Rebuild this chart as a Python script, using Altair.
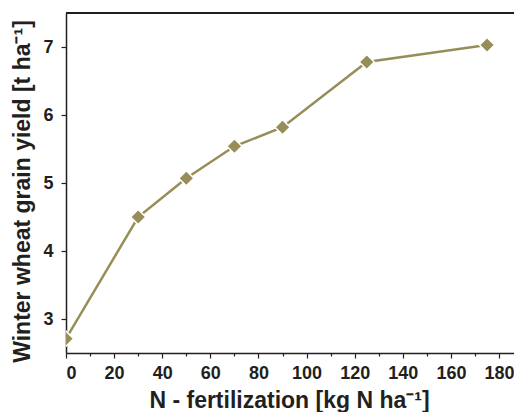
import altair as alt
import pandas as pd

n_rate = [0, 30, 50, 70, 90, 125, 175]
yield_t = [2.71, 4.50, 5.07, 5.54, 5.82, 6.78, 7.03]

x_ticks = list(range(0, 190, 10))
y_ticks = [3, 3.5, 4, 4.5, 5, 5.5, 6, 6.5, 7]

df = pd.DataFrame({"N": n_rate, "Y": yield_t})

W, H = 448, 340
COL = "#978D57"
AX = "#231F20"
FONT = "Liberation Sans"

x = alt.X(
    "N:Q",
    scale=alt.Scale(domain=[0, 186.2], nice=False, zero=False),
    axis=alt.Axis(
        title="N - fertilization [kg N ha⁻¹]",
        values=x_ticks,
        format="d",
        labelExpr="datum.value % 20 == 0 ? datum.label : ''",
        tickSize={"condition": {"test": "datum.value % 20 != 0", "value": 3}, "value": 5},
        grid=False,
        labelPadding=6,
        titleX=223,
        titleY=54,
        titleBaseline="alphabetic",
        titleAlign="center",
    ),
)
y = alt.Y(
    "Y:Q",
    scale=alt.Scale(domain=[2.5, 7.5], nice=False, zero=False),
    axis=alt.Axis(
        title="Winter wheat grain yield [t ha⁻¹]",
        values=y_ticks,
        format="d",
        labelExpr="datum.value % 1 == 0 ? datum.label : ''",
        tickSize={"condition": {"test": "datum.value % 1 != 0", "value": 3}, "value": 5},
        grid=False,
        labelPadding=8,
        titleAngle=270,
        titleX=-37,
        titleY=178,
        titleBaseline="alphabetic",
        titleAlign="center",
    ),
)

line = alt.Chart(df).mark_line(color=COL, strokeWidth=2.5, clip=True).encode(x=x, y=y)
pts = alt.Chart(df).mark_point(
    shape="diamond", filled=True, size=230, color=COL, stroke="white",
    strokeWidth=1.5, opacity=1, clip=True
).encode(x=x, y=y)
top = alt.Chart(df).mark_rule(color=AX, strokeWidth=1.5).encode(
    x=alt.value(0), x2=alt.value(W), y=alt.value(0)
)

chart = (
    alt.layer(line, pts, top)
    .properties(
        width=W, height=H,
        autosize=alt.AutoSizeParams(type="none"),
        padding={"left": 58, "top": 5, "right": 0, "bottom": 59},
    )
    .configure_view(stroke=None)
    .configure_axis(
        domainColor=AX, domainWidth=1.5, tickColor=AX, tickWidth=1.2,
        labelFont=FONT, labelFontSize=18, labelFontWeight="bold", labelColor=AX,
        titleFont=FONT, titleFontSize=23, titleFontWeight="bold", titleColor=AX,
    )
)

chart.save("out.html", embed_options={"renderer": "svg", "actions": False})
